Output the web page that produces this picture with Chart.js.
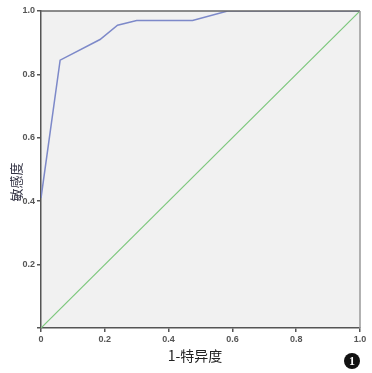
<!DOCTYPE html>
<html>
<head>
<meta charset="utf-8">
<script src="https://cdn.jsdelivr.net/npm/chart.js@4/dist/chart.umd.min.js"></script>
<style>
  html, body { margin: 0; padding: 0; background: #fff; }
  #wrap { width: 372px; height: 373px; }
</style>
</head>
<body>
<div id="wrap"><canvas id="roc"></canvas></div>
<script>
// ROC 曲线数据
const rocX = [0, 0.06, 0.185, 0.24, 0.30, 0.475, 0.585, 1.0];
const rocY = [0.41, 0.845, 0.91, 0.955, 0.97, 0.97, 1.0, 1.0];
const refX = [0, 1];
const refY = [0, 1];
const tickValues = [0, 0.2, 0.4, 0.6, 0.8, 1.0];
const xTickLabels = ['0', '0.2', '0.4', '0.6', '0.8', '1.0'];
const yTickLabels = ['', '0.2', '0.4', '0.6', '0.8', '1.0'];
const xTitle = '1-特异度';
const yTitle = '敏感度';
const badgeText = '1';

function toPoints(xs, ys) {
  return xs.map((x, i) => ({ x: x, y: ys[i] }));
}

function labelFor(labels) {
  return val => {
    const i = tickValues.findIndex(t => Math.abs(t - val) < 1e-6);
    return i >= 0 ? labels[i] : '';
  };
}

// 背景、边框、标题和角标
const decor = {
  id: 'decor',
  beforeDraw(chart) {
    const { ctx, chartArea: a } = chart;
    ctx.save();
    ctx.fillStyle = '#f1f1f1';
    ctx.fillRect(a.left, a.top, a.right - a.left, a.bottom - a.top);
    ctx.restore();
  },
  afterDraw(chart) {
    const { ctx, chartArea: a } = chart;
    ctx.save();
    ctx.lineWidth = 1.5;
    ctx.strokeStyle = '#666';
    ctx.beginPath();
    ctx.moveTo(a.left, a.top);
    ctx.lineTo(a.right, a.top);
    ctx.stroke();
    ctx.strokeStyle = '#999';
    ctx.beginPath();
    ctx.moveTo(a.right, a.top);
    ctx.lineTo(a.right, a.bottom);
    ctx.stroke();

    ctx.fillStyle = '#222';
    ctx.font = '14px "Noto Sans CJK SC"';
    ctx.textAlign = 'center';
    ctx.textBaseline = 'middle';
    ctx.fillText(xTitle, 195, 356);

    ctx.save();
    ctx.translate(16, 182);
    ctx.rotate(-Math.PI / 2);
    ctx.fillStyle = '#334';
    ctx.font = '13px "Noto Sans CJK SC"';
    ctx.fillText(yTitle, 0, 0);
    ctx.restore();

    ctx.fillStyle = '#111';
    ctx.beginPath();
    ctx.arc(352, 361, 8, 0, Math.PI * 2);
    ctx.fill();
    ctx.fillStyle = '#fff';
    ctx.font = 'bold 12px "Liberation Serif"';
    ctx.fillText(badgeText, 352, 361.5);
    ctx.restore();
  }
};

new Chart(document.getElementById('roc'), {
  type: 'scatter',
  data: {
    datasets: [{
      data: toPoints(rocX, rocY),
      showLine: true,
      borderColor: '#7d89c9',
      borderWidth: 1.5,
      pointRadius: 0,
      fill: false
    }, {
      data: toPoints(refX, refY),
      showLine: true,
      borderColor: '#7cc77c',
      borderWidth: 1.2,
      pointRadius: 0,
      fill: false
    }]
  },
  options: {
    responsive: true,
    maintainAspectRatio: false,
    animation: false,
    layout: { padding: { top: 11, right: 12, left: 0, bottom: 0 } },
    plugins: { legend: { display: false }, tooltip: { enabled: false } },
    scales: {
      x: {
        type: 'linear',
        min: 0, max: 1,
        afterFit: s => { s.height = 45; },
        afterBuildTicks: s => { s.ticks = tickValues.map(v => ({ value: v })); },
        ticks: {
          color: '#555',
          font: { family: 'Liberation Sans', size: 9, weight: 'bold' },
          padding: 2,
          maxRotation: 0,
          callback: labelFor(xTickLabels)
        },
        grid: { drawOnChartArea: false, tickLength: 4, color: '#555', lineWidth: 1.5 },
        border: { display: true, color: '#555', width: 1.5 }
      },
      y: {
        type: 'linear',
        min: 0, max: 1,
        afterFit: s => { s.width = 41; },
        afterBuildTicks: s => { s.ticks = tickValues.map(v => ({ value: v })); },
        ticks: {
          color: '#555',
          font: { family: 'Liberation Sans', size: 9, weight: 'bold' },
          padding: 2,
          callback: labelFor(yTickLabels)
        },
        grid: { drawOnChartArea: false, tickLength: 4, color: '#555', lineWidth: 1.5 },
        border: { display: true, color: '#555', width: 1.5 }
      }
    }
  },
  plugins: [decor]
});
</script>
</body>
</html>
